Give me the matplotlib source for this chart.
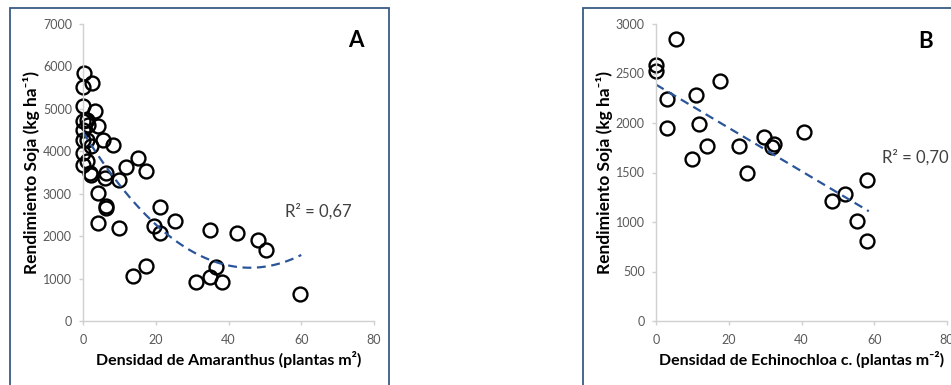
import numpy as np
import matplotlib.pyplot as plt
from matplotlib.patches import Rectangle

plt.rcParams['font.family'] = ['Lato', 'DejaVu Sans']

# Panel A: Amaranthus density vs soybean yield
amar_x = [0.2, 0, 2.5, 0, 3.2, 0, 1.1, 0, 1.4, 4.1, 0, 1.0, 5.5, 8.3, 2.3,
          0, 0, 1.1, 1.8, 2.3, 6.2, 6.0, 9.9, 11.9, 15.1, 17.2, 4.1, 6.4, 6.4,
          4.1, 9.8, 21.3, 19.4, 21.3, 25.2, 13.8, 17.4, 34.9, 42.2, 48.2, 50.3,
          31.2, 34.9, 36.7, 38.3, 59.6]
amar_y = [5850, 5515, 5610, 5060, 4957, 4705, 4745, 4508, 4626, 4587, 4272,
          4272, 4256, 4138, 4115, 3957, 3682, 3760, 3485, 3446, 3485, 3367,
          3328, 3627, 3832, 3525, 3013, 2699, 2660, 2305, 2187, 2683, 2250,
          2069, 2368, 1070, 1306, 2148, 2085, 1912, 1676, 928, 1046, 1282,
          928, 637]

# Panel B: Echinochloa density vs soybean yield
echi_x = [0, 0, 5.6, 2.9, 2.9, 10.9, 11.7, 10.0, 13.9, 17.5, 22.9, 24.9,
          29.7, 32.5, 32.0, 40.6, 48.4, 52.0, 55.2, 58.1, 58.1]
echi_y = [2587, 2526, 2845, 2244, 1948, 2284, 1992, 1639, 1767, 2429, 1763,
          1495, 1854, 1790, 1757, 1905, 1210, 1284, 1008, 1421, 813]

fig = plt.figure(figsize=(9.51, 3.85), dpi=100)

# panel frames
frame_col = '#3a5a86'
fig.patches.append(Rectangle((10 / 951, -0.05), 379 / 951, 1.05 - 8 / 385,
                             transform=fig.transFigure, fill=False,
                             edgecolor=frame_col, linewidth=1.3))
fig.patches.append(Rectangle((583 / 951, -0.05), 0.45, 1.05 - 8 / 385,
                             transform=fig.transFigure, fill=False,
                             edgecolor=frame_col, linewidth=1.3))

ax1 = fig.add_axes([83 / 951, 1 - 321 / 385, 291 / 951, 297 / 385])
ax2 = fig.add_axes([656 / 951, 1 - 321 / 385, 291 / 951, 297 / 385])

trend_col = '#2a5599'


def style(ax, ymax, ystep):
    ax.set_xlim(0, 80)
    ax.set_ylim(0, ymax)
    ax.set_xticks(range(0, 81, 20))
    ax.set_yticks(range(0, ymax + 1, ystep))
    for s in ['top', 'right']:
        ax.spines[s].set_visible(False)
    for s in ['left', 'bottom']:
        ax.spines[s].set_color('#d0d0d0')
        ax.spines[s].set_linewidth(1.0)
    ax.tick_params(colors='#d0d0d0', labelcolor='#595959', labelsize=9,
                   length=3, width=1.0)
    ax.tick_params(axis='x', pad=6)
    ax.tick_params(axis='y', pad=5)
    ax.patch.set_alpha(0)


# Panel A
ax1.plot(amar_x, amar_y, 'o', mfc='none', mec='black', ms=10, mew=1.7,
         clip_on=False)
ca = np.polyfit(amar_x, amar_y, 2)
xa = np.linspace(0, 60, 200)
ax1.plot(xa, np.polyval(ca, xa), '--', color=trend_col, lw=1.6,
         dashes=(4, 2.5))
style(ax1, 7000, 1000)
ax1.set_xlabel('Densidad de Amaranthus (plantas m²)', fontsize=11.5,
               fontweight='bold', labelpad=4)
ax1.set_ylabel('Rendimiento Soja (kg ha⁻¹)', fontsize=12.5,
               fontweight='bold', labelpad=2)
ax1.text(55.5, 2450, 'R² = 0,67', fontsize=12, color='#404040')
ax1.text(75, 6450, 'A', fontsize=16, fontweight='bold', ha='center')

# Panel B
ax2.plot(echi_x, echi_y, 'o', mfc='none', mec='black', ms=10, mew=1.7,
         clip_on=False)
cb = np.polyfit(echi_x, echi_y, 1)
xb = np.linspace(0, 58.5, 100)
ax2.plot(xb, np.polyval(cb, xb), '--', color=trend_col, lw=1.6,
         dashes=(4, 2.5))
style(ax2, 3000, 500)
ax2.set_xlabel('Densidad de Echinochloa c. (plantas m⁻²)',
               fontsize=11.5, fontweight='bold', labelpad=4)
ax2.set_ylabel('Rendimiento Soja (kg ha⁻¹)', fontsize=12.5,
               fontweight='bold', labelpad=2)
ax2.text(62, 1600, 'R² = 0,70', fontsize=12, color='#404040')
ax2.text(74, 2760, 'B', fontsize=16, fontweight='bold', ha='center')

fig.savefig('out.png', dpi=100)
